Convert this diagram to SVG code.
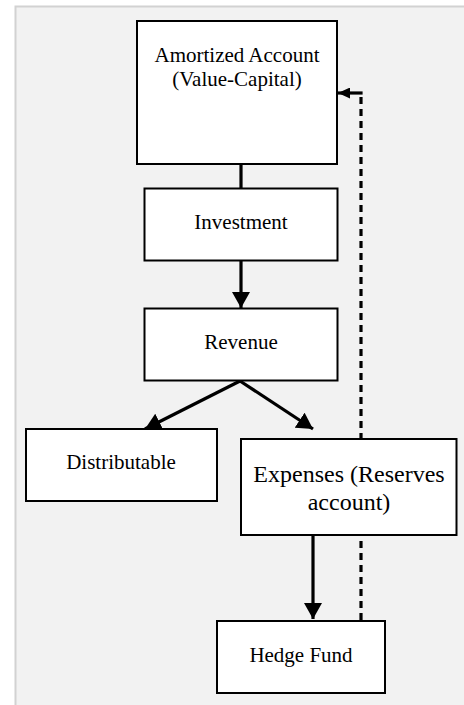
<svg xmlns="http://www.w3.org/2000/svg" width="464" height="705" viewBox="0 0 464 705">
<style>
.box{fill:#fff;stroke:#000;stroke-width:2}
.t{font-family:"Liberation Serif","Times New Roman",serif;font-size:21px;fill:#000;text-anchor:middle}
.big{font-size:24px}
.conn{stroke:#000;stroke-width:3.2;fill:none}
.dash{stroke-dasharray:7 5}
</style>
<defs>
<marker id="ah" markerUnits="userSpaceOnUse" markerWidth="17" markerHeight="18" refX="16" refY="9" orient="auto">
<path d="M0,0 L16,9 L0,18 Z" fill="#000"/>
</marker>
<marker id="ahs" markerUnits="userSpaceOnUse" markerWidth="13" markerHeight="11" refX="12" refY="5.5" orient="auto">
<path d="M0,0 L12,5.5 L0,11 Z" fill="#000"/>
</marker>
</defs>
<rect x="0" y="0" width="464" height="705" fill="#fff"/>
<rect x="16" y="7" width="448" height="698" fill="#f2f2f2"/>
<path d="M15.5,705 V6.5 H464" stroke="#d2d2d2" stroke-width="2" fill="none"/>
<g id="connectors">
<line class="conn" x1="241" y1="164" x2="241" y2="188"/>
<line class="conn" x1="241" y1="261" x2="241" y2="308" marker-end="url(#ah)"/>
<line class="conn" x1="240" y1="381" x2="145" y2="429" marker-end="url(#ah)"/>
<line class="conn" x1="240" y1="381" x2="313" y2="429" marker-end="url(#ah)"/>
<line class="conn" x1="313" y1="535" x2="313" y2="619" marker-end="url(#ah)"/>
<line class="conn dash" x1="361" y1="620" x2="361" y2="95"/>
<line class="conn" x1="362.6" y1="93" x2="338" y2="93" marker-end="url(#ahs)"/>
</g>
<g id="amortized">
<rect class="box" x="137" y="21" width="200" height="143"/>
<text class="t" x="237" y="62">Amortized Account</text>
<text class="t" x="237" y="86">(Value-Capital)</text>
</g>
<g id="investment">
<rect class="box" x="144.5" y="188.5" width="193" height="72"/>
<text class="t" x="241" y="229">Investment</text>
</g>
<g id="revenue">
<rect class="box" x="144.5" y="308.5" width="193" height="72"/>
<text class="t" x="241" y="349">Revenue</text>
</g>
<g id="distributable">
<rect class="box" x="26" y="429" width="191" height="72"/>
<text class="t" x="121" y="469">Distributable</text>
</g>
<g id="expenses">
<rect class="box" x="241" y="439" width="215.5" height="96"/>
<text class="t big" x="349" y="482">Expenses (Reserves</text>
<text class="t big" x="349" y="510">account)</text>
</g>
<g id="hedge">
<rect class="box" x="217" y="621" width="168" height="72"/>
<text class="t" x="301" y="662">Hedge Fund</text>
</g>
</svg>
